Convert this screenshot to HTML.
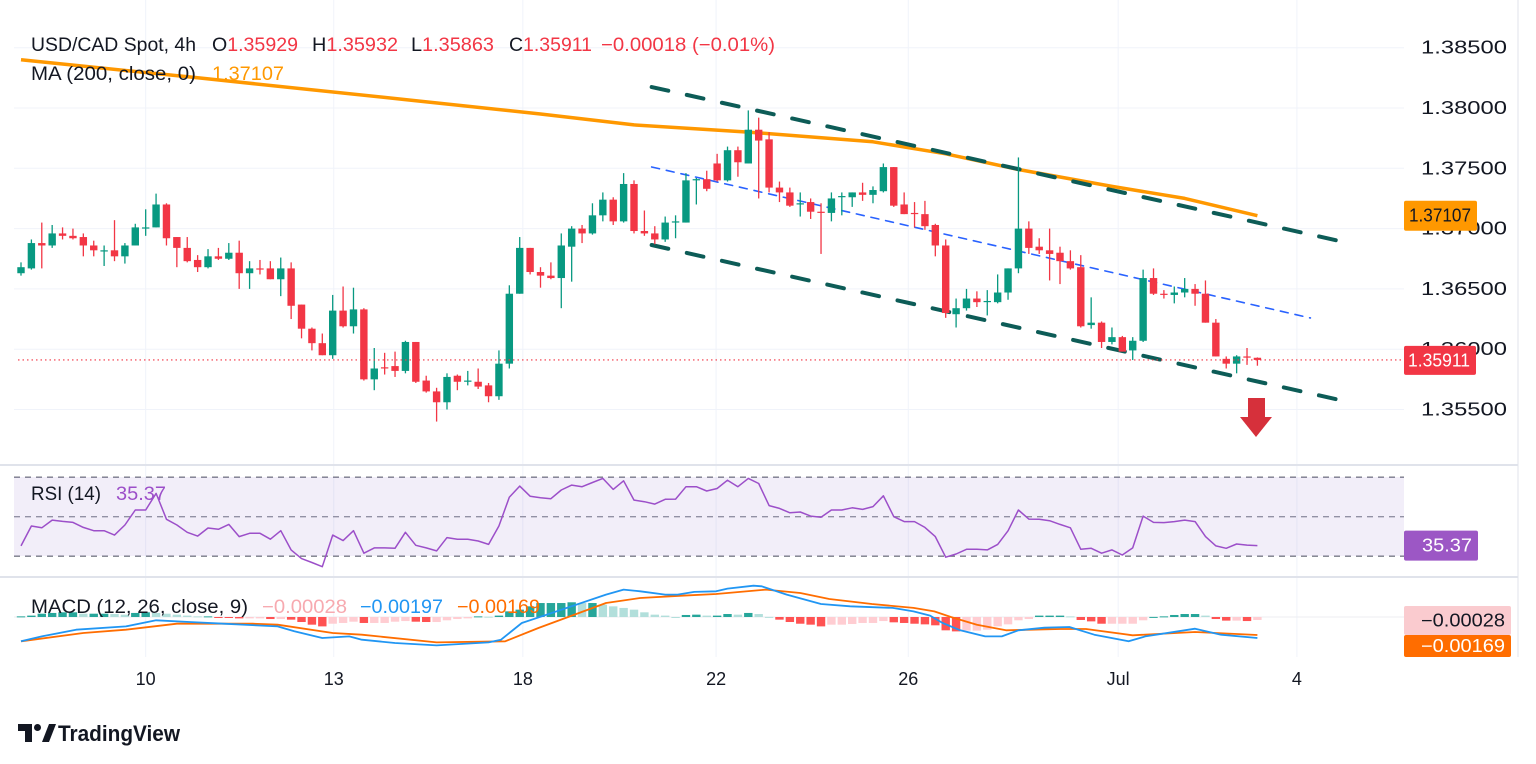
<!DOCTYPE html>
<html><head><meta charset="utf-8"><style>
html,body{margin:0;padding:0;background:#fff;}
svg{display:block;font-family:"Liberation Sans",sans-serif;}
</style></head><body>
<svg id="chart" width="1536" height="764" viewBox="0 0 1536 764" xmlns="http://www.w3.org/2000/svg">
<rect x="0" y="0" width="1536" height="764" fill="#fff"/>
<g id="grid"></g>
<rect x="14" y="477" width="1390" height="79" fill="#7e57c2" fill-opacity="0.1"/>
<g id="marks"></g>
<g id="labels"></g>
</svg>
<script>
// ---- data ----
const dateLabels = ["10","13","18","22","26","Jul","4"];
const dateIdx = [12, 30.1, 48.3, 66.9, 85.4, 105.6, 122.8];
const priceTicks = [1.385,1.38,1.375,1.37,1.365,1.36,1.355];
const opens = [1.3663,1.3667,1.3688,1.3686,1.3696,1.3694,1.3693,1.3686,1.3681,1.3682,1.3677,1.3686,1.3700,1.3701,1.3720,1.3693,1.3684,1.3674,1.3668,1.3677,1.3675,1.3680,1.3663,1.3667,1.3667,1.3658,1.3667,1.3637,1.3617,1.3605,1.3595,1.3632,1.3619,1.3633,1.3575,1.3585,1.3586,1.3582,1.3606,1.3574,1.3565,1.3556,1.3578,1.3573,1.3573,1.3570,1.3561,1.3588,1.3646,1.3684,1.3664,1.3661,1.3659,1.3685,1.3700,1.3696,1.3711,1.3724,1.3706,1.3737,1.3698,1.3696,1.3691,1.3705,1.3705,1.3740,1.3741,1.3754,1.3740,1.3765,1.3754,1.3782,1.3774,1.3734,1.3730,1.3720,1.3722,1.3714,1.3713,1.3726,1.3726,1.3730,1.3728,1.3731,1.3751,1.3720,1.3713,1.3712,1.3703,1.3686,1.3629,1.3634,1.3642,1.3639,1.3639,1.3647,1.3667,1.3700,1.3685,1.3682,1.3680,1.3673,1.3668,1.3620,1.3622,1.3606,1.3610,1.3599,1.3607,1.3659,1.3646,1.3645,1.3647,1.3650,1.3646,1.3622,1.3592,1.3588,1.3594,1.35929];
const highs = [1.3672,1.3691,1.3705,1.3703,1.3701,1.3700,1.3696,1.3690,1.3686,1.3707,1.3688,1.3704,1.3716,1.3729,1.3721,1.3693,1.3693,1.3678,1.3683,1.3684,1.3688,1.3690,1.3673,1.3674,1.3673,1.3676,1.3672,1.3637,1.3618,1.3613,1.3645,1.3652,1.3651,1.3634,1.3601,1.3597,1.3598,1.3607,1.3606,1.3578,1.3568,1.3580,1.3579,1.3582,1.3584,1.3572,1.3599,1.3653,1.3693,1.3684,1.3668,1.3672,1.3696,1.3702,1.3703,1.3721,1.3730,1.3726,1.3746,1.3740,1.3715,1.3702,1.3710,1.3711,1.3746,1.3742,1.3748,1.3762,1.3768,1.3768,1.3798,1.3792,1.3780,1.3739,1.3734,1.3730,1.3725,1.3721,1.3730,1.3730,1.3730,1.3738,1.3735,1.3754,1.3751,1.3730,1.3722,1.3723,1.3704,1.3691,1.3642,1.3650,1.3648,1.3649,1.3662,1.3667,1.3759,1.3706,1.3692,1.3700,1.3685,1.3682,1.3678,1.3643,1.3623,1.3618,1.3611,1.3610,1.3666,1.3667,1.3649,1.3652,1.3659,1.3654,1.3657,1.3625,1.3594,1.3595,1.3601,1.35932];
const lows = [1.3661,1.3666,1.3667,1.3684,1.3691,1.3691,1.3677,1.3677,1.3669,1.3673,1.3671,1.3686,1.3694,1.3701,1.3686,1.3668,1.3672,1.3664,1.3667,1.3674,1.3674,1.3650,1.3650,1.3662,1.3658,1.3644,1.3625,1.3609,1.3599,1.3595,1.3592,1.3618,1.3613,1.3574,1.3566,1.3579,1.3577,1.3580,1.3572,1.3564,1.3540,1.3550,1.3566,1.3570,1.3567,1.3556,1.3558,1.3584,1.3646,1.3662,1.3651,1.3658,1.3634,1.3656,1.3688,1.3695,1.3706,1.3703,1.3705,1.3696,1.3694,1.3687,1.3689,1.3692,1.3705,1.3720,1.3731,1.3739,1.3739,1.3743,1.3754,1.3725,1.3730,1.3722,1.3718,1.3710,1.3708,1.3679,1.3706,1.3711,1.3718,1.3723,1.3721,1.3730,1.3718,1.3712,1.3701,1.3699,1.3677,1.3626,1.3618,1.3632,1.3635,1.3628,1.3638,1.3641,1.3663,1.3679,1.3679,1.3657,1.3654,1.3666,1.3618,1.3617,1.3601,1.3604,1.3598,1.3591,1.3606,1.3645,1.3642,1.3638,1.3643,1.3636,1.3622,1.3594,1.3584,1.3580,1.3587,1.35863];
const closes = [1.3668,1.3688,1.3686,1.3696,1.3694,1.3692,1.3686,1.3682,1.3682,1.3677,1.3686,1.3701,1.3701,1.3720,1.3692,1.3684,1.3673,1.3668,1.3677,1.3675,1.3680,1.3663,1.3667,1.3666,1.3658,1.3667,1.3636,1.3617,1.3605,1.3595,1.3632,1.3619,1.3633,1.3575,1.3584,1.3584,1.3582,1.3606,1.3573,1.3565,1.3556,1.3577,1.3573,1.3574,1.3569,1.3561,1.3588,1.3646,1.3684,1.3664,1.3661,1.3659,1.3686,1.3700,1.3696,1.3711,1.3724,1.3706,1.3737,1.3698,1.3696,1.3691,1.3705,1.3706,1.3740,1.3741,1.3733,1.3740,1.3765,1.3755,1.3782,1.3773,1.3734,1.3730,1.3719,1.3721,1.3714,1.3713,1.3725,1.3727,1.3730,1.3728,1.3732,1.3751,1.3719,1.3712,1.3712,1.3702,1.3686,1.3630,1.3634,1.3642,1.3639,1.3640,1.3647,1.3667,1.3700,1.3684,1.3682,1.3679,1.3673,1.3667,1.3619,1.3622,1.3606,1.3610,1.3598,1.3607,1.3659,1.3646,1.3645,1.3647,1.3650,1.3646,1.3622,1.3594,1.3588,1.3594,1.3593,1.35911];
const maIdx = [0,17,37,50,59,70,82,89,96,105,112,119];
const maVals = [1.3840,1.3825,1.3807,1.3795,1.3786,1.3780,1.3772,1.3762,1.3749,1.3735,1.3725,1.37107];
const rsiVals = [35.2,45.3,44.4,48.3,47.6,47.1,44.6,42.9,42.9,40.7,45.8,53.4,53.4,61.8,48.7,45.8,42.1,40.2,44.3,43.6,46.1,39.9,41.6,41.6,38.6,42.9,33.2,28.8,26.8,24.7,40.7,37.9,42.9,31.5,34.2,34.2,34.0,42.1,35.5,34.2,32.7,39.4,38.6,38.6,37.7,36.0,45.3,59.8,65.5,60.4,59.6,59.1,63.5,66.0,65.2,67.3,69.4,63.8,68.2,58.4,57.6,56.4,
58.8,58.9,65.2,65.2,63.0,64.3,68.5,65.2,69.4,66.8,55.6,54.2,52.0,52.4,50.3,49.7,53.4,53.4,54.5,53.7,55.1,60.6,50.0,47.5,47.5,44.6,39.9,29.5,31.1,33.5,33.5,33.2,36.0,42.9,53.4,48.8,48.7,48.0,46.1,44.4,33.5,34.0,31.5,33.2,30.6,34.2,50.3,47.1,47.0,47.5,48.3,47.5,39.9,35.2,34.0,36.2,35.6,35.37];
const histVals = [0.00006,0.00013,0.00031,0.00038,0.00044,0.00044,0.00031,0.00031,0.00031,0.00028,0.00022,0.00038,0.00044,0.00038,0.00031,0.00022,0.00013,0.00006,0.00006,-0.00006,-0.00009,-0.00013,-0.00013,-0.00013,-0.00019,-0.00019,-0.00025,-0.00047,-0.00072,-0.00088,-0.00063,-0.00056,-0.00044,-0.00056,-0.00056,-0.00056,-0.00044,-0.00038,-0.00044,-0.00047,-0.00047,-0.00031,-0.00019,-0.00013,0.00006,0.00003,0.00013,0.00053,0.00069,0.001,0.00131,0.00131,0.00131,0.00138,0.00131,0.00131,0.00116,0.001,0.00085,0.00069,0.00044,0.00022,
0.00013,0,0.00019,0.00022,0.00013,0.00013,0.00028,0.00022,0.00038,0.00028,0.00001,-0.00025,-0.00047,-0.00063,-0.00072,-0.00088,-0.00072,-0.00072,-0.00066,-0.00056,-0.00056,-0.00038,-0.0005,-0.00056,-0.00063,-0.00069,-0.00078,-0.00125,-0.00135,-0.00128,-0.00128,-0.00119,-0.00088,-0.00069,-0.00031,-0.00019,0.00013,0.00013,0.00013,0.00006,-0.00028,-0.00041,-0.00063,-0.00063,-0.00063,-0.00063,-0.00031,0.00001,0.00006,0.00019,0.00028,0.00028,0.00013,-0.00019,-0.00034,-0.00034,-0.00038,-0.00028];
const macdIdx = [0,2,5.3,10.1,13,16.2,19.5,24.7,26.3,29,31.6,32.8,36,40,45,46.2,48.2,50.6,56.3,58,59.6,62,63.2,64.8,66.9,68,70.5,71.3,73.7,77,79.8,82.3,83.9,85.9,87.5,88.7,90.4,92.8,94.4,96,98.5,100.9,103.3,106.6,108.2,113,115.5,119];
const macdVals = [-0.00228,-0.00182,-0.00119,-0.00088,-0.00031,-0.00047,-0.00063,-0.00088,-0.00134,-0.00197,-0.00182,-0.00213,-0.00244,-0.00266,-0.00238,-0.00213,-0.00056,0.00022,0.0021,0.00257,0.00241,0.0021,0.0021,0.00235,0.00241,0.00266,0.00294,0.00288,0.0021,0.00122,0.001,0.00091,0.00085,0.00053,0.00013,-0.00056,-0.00125,-0.00182,-0.00182,-0.00125,-0.001,-0.00094,-0.00166,-0.00228,-0.00182,-0.0011,-0.00166,-0.00197];
const sigIdx = [0,6,10.1,15,22.3,24.7,30,32.8,40,46.6,49.8,56.3,59.6,63.6,66.9,71.7,75,77.8,81.9,85.9,87.9,89.5,92,94.8,100,102.5,107,113,119];
const sigVals = [-0.00228,-0.0015,-0.00119,-0.00063,-0.00063,-0.00072,-0.0015,-0.00166,-0.00238,-0.00228,-0.00103,0.00131,0.00178,0.002,0.00216,0.00257,0.00225,0.00169,0.00122,0.00085,0.00053,0,-0.00072,-0.00125,-0.00113,-0.00113,-0.00172,-0.00141,-0.00169];

// ---- scales ----
const NS = "http://www.w3.org/2000/svg";
const X = i => 21 + i * 10.39;
const Y = p => 108 + (1.38 - p) * 12060;
const RY = v => 516.7 - (v - 50) * 1.975;
const MY = v => 617 - v * 10660;
function mk(tag, parent, attrs) {
  const e = document.createElementNS(NS, tag);
  for (const k in attrs) e.setAttribute(k, attrs[k]);
  parent.appendChild(e);
  return e;
}
const grid = document.getElementById('grid');
const marks = document.getElementById('marks');
const labels = document.getElementById('labels');

priceTicks.forEach(p => {
  const l = mk('line', grid, {x1:14, x2:1404, y1:Y(p), y2:Y(p), stroke:'#f0f3fa', 'stroke-width':1});
  
  
});
dateIdx.forEach(i => {
  const l = mk('line', grid, {x1:X(i), x2:X(i), y1:0, y2:657, stroke:'#f0f3fa', 'stroke-width':1});
  
  
});
[465, 577].forEach(y => {
  const l = mk('line', grid, {x1:0, x2:1518, y1:y, y2:y, stroke:'#e0e3eb', 'stroke-width':2});
  
  
});
{
  const l = mk('line', grid, {x1:1518, x2:1518, y1:0, y2:657, stroke:'#e0e3eb', 'stroke-width':1});
  
  
}
[70, 50, 30].forEach(v => {
  const l = mk('line', grid, {x1:14, x2:1404, y1:RY(v), y2:RY(v), stroke: v===50 ? '#9598a1' : '#787b86', 'stroke-width':1.3, 'stroke-dasharray':'6 5'});
  
  
});
{
  const l = mk('line', grid, {x1:14, x2:1404, y1:MY(0), y2:MY(0), stroke:'#eceef2', 'stroke-width':1});
  
  
}

{
  const pts = maIdx.map((i, k) => X(i).toFixed(1) + ',' + Y(maVals[k]).toFixed(1)).join(' ');
  const l = mk('polyline', marks, {points: pts, fill:'none', stroke:'#ff9800', 'stroke-width':3.5, 'stroke-linejoin':'round'});
  
  
}
const drawLine = (i1, p1, i2, p2, st, w, dash, name) => {
  const l = mk('line', marks, {x1:X(i1), y1:Y(p1), x2:X(i2), y2:Y(p2), stroke:st, 'stroke-width':w, 'stroke-dasharray':dash, 'stroke-linecap':'round'});
  
  
};
drawLine(60.7, 1.38174, 126.9, 1.36897, '#0d5c57', 4, '17 19', 'channel-upper-line');
drawLine(60.7, 1.36864, 126.9, 1.35579, '#0d5c57', 4, '17 19', 'channel-lower-line');
drawLine(60.7, 1.37511, 124.1, 1.36259, '#2962ff', 1.6, '8 7', 'channel-mid-line');

for (let i = 0; i < opens.length; i++) {
  const up = closes[i] >= opens[i];
  const col = up ? '#089981' : '#f23645';
  const x = X(i);
  const w = mk('line', marks, {x1:x, x2:x, y1:Y(highs[i]), y2:Y(lows[i]), stroke:col, 'stroke-width':1.3});
  
  
  const top = Y(Math.max(opens[i], closes[i]));
  const h = Math.max(1, Math.abs(Y(opens[i]) - Y(closes[i])));
  const b = mk('rect', marks, {x:x - 3.7, y:top, width:7.4, height:h, fill:col});
  
  
}
{
  const lp = closes[closes.length - 1];
  const l = mk('line', marks, {x1:18, x2:1404, y1:Y(lp), y2:Y(lp), stroke:'#f23645', 'stroke-width':1.2, 'stroke-dasharray':'1.5 3'});
  
  
}
{
  const g = mk('g', marks, {});
  
  
  mk('rect', g, {x:1248, y:398, width:17, height:20, fill:'#d6303b'});
  mk('polygon', g, {points:'1240,417 1272,417 1256,437', fill:'#d6303b'});
}

{
  const pts = rsiVals.map((v, i) => X(i).toFixed(1) + ',' + RY(v).toFixed(1)).join(' ');
  const l = mk('polyline', marks, {points: pts, fill:'none', stroke:'#9c4fc9', 'stroke-width':1.5, 'stroke-linejoin':'round'});
  
  
}
for (let i = 0; i < histVals.length; i++) {
  const v = histVals[i], pv = i ? histVals[i - 1] : 0;
  let col;
  if (v >= 0) col = v >= pv ? '#26a69a' : '#b2dfdb';
  else col = v < pv ? '#ff5252' : '#ffcdd2';
  const y0 = MY(0), y1 = MY(v);
  const r = mk('rect', marks, {x:X(i) - 4.2, y:Math.min(y0, y1), width:8.4, height:Math.max(1, Math.abs(y1 - y0)), fill:col});
  
  
}
{
  const pts = sigIdx.map((i, k) => X(i).toFixed(1) + ',' + MY(sigVals[k]).toFixed(1)).join(' ');
  const l = mk('polyline', marks, {points: pts, fill:'none', stroke:'#ff6d00', 'stroke-width':1.8, 'stroke-linejoin':'round'});
  
  
  const pts2 = macdIdx.map((i, k) => X(i).toFixed(1) + ',' + MY(macdVals[k]).toFixed(1)).join(' ');
  const l2 = mk('polyline', marks, {points: pts2, fill:'none', stroke:'#2196f3', 'stroke-width':1.8, 'stroke-linejoin':'round'});
  
  
}

priceTicks.forEach(p => {
  const t = mk('text', labels, {x:1421, y:Y(p) + 6, 'font-size':18, fill:'#131722', textLength:86, lengthAdjust:'spacingAndGlyphs'});
  t.textContent = p.toFixed(5);
  
  
});
dateLabels.forEach((s, k) => {
  const t = mk('text', labels, {x:X(dateIdx[k]), y:685, 'font-size':18, fill:'#131722', 'text-anchor':'middle'});
  t.textContent = s;
  
  
});
const badge = (y, h, w, fill, txtCol, txt, tl, name) => {
  const g = mk('g', labels, {});
  
  
  mk('rect', g, {x:1404, y:y, width:w, height:h, fill:fill, rx:2});
  const t = mk('text', g, {x:1404 + w - 6 - tl, y:y + h / 2 + 6, 'font-size':18, fill:txtCol, textLength:tl, lengthAdjust:'spacingAndGlyphs'});
  t.textContent = txt;
};
badge(Y(maVals[maVals.length - 1]) - 15, 30, 73, '#ff9800', '#131722', maVals[maVals.length - 1].toFixed(5), 62, 'ma-price-badge');
badge(Y(closes[closes.length - 1]) - 14, 29, 72, '#f23645', '#ffffff', closes[closes.length - 1].toFixed(5), 62, 'last-price-badge');
badge(RY(rsiVals[rsiVals.length - 1]) - 15, 30, 74, '#9c57c5', '#ffffff', rsiVals[rsiVals.length - 1].toFixed(2), 50, 'rsi-value-badge');
badge(606, 29, 107, '#facbcf', '#131722', '−0.00028', 84, 'macd-hist-badge');
badge(635, 22, 107, '#ff6d00', '#ffffff', '−0.00169', 84, 'macd-signal-badge');
</script>
<svg style="position:absolute;left:0;top:0" width="1536" height="764">
<g font-family="Liberation Sans, sans-serif" font-size="19">
<text x="31" y="51" fill="#131722" textLength="165" lengthAdjust="spacingAndGlyphs">USD/CAD Spot, 4h</text>
<text x="212" y="51" fill="#131722" textLength="86" lengthAdjust="spacingAndGlyphs">O<tspan fill="#f23645">1.35929</tspan></text>
<text x="312" y="51" fill="#131722" textLength="86" lengthAdjust="spacingAndGlyphs">H<tspan fill="#f23645">1.35932</tspan></text>
<text x="411" y="51" fill="#131722" textLength="83" lengthAdjust="spacingAndGlyphs">L<tspan fill="#f23645">1.35863</tspan></text>
<text x="509" y="51" fill="#131722" textLength="83" lengthAdjust="spacingAndGlyphs">C<tspan fill="#f23645">1.35911</tspan></text>
<text x="601" y="51" fill="#f23645" textLength="174" lengthAdjust="spacingAndGlyphs">−0.00018 (−0.01%)</text>
<text x="31" y="80" fill="#131722" textLength="165" lengthAdjust="spacingAndGlyphs">MA (200, close, 0)</text>
<text x="212" y="80" fill="#ff9800" textLength="72" lengthAdjust="spacingAndGlyphs">1.37107</text>
<text x="31" y="500" fill="#131722" textLength="70" lengthAdjust="spacingAndGlyphs">RSI (14)</text>
<text x="116" y="500" fill="#9c4fc9" textLength="50" lengthAdjust="spacingAndGlyphs">35.37</text>
<text x="31" y="613" fill="#131722" textLength="217" lengthAdjust="spacingAndGlyphs">MACD (12, 26, close, 9)</text>
<text x="262" y="613" fill="#f7aab0" textLength="85" lengthAdjust="spacingAndGlyphs">−0.00028</text>
<text x="360" y="613" fill="#2196f3" textLength="83" lengthAdjust="spacingAndGlyphs">−0.00197</text>
<text x="457" y="613" fill="#ff6d00" textLength="83" lengthAdjust="spacingAndGlyphs">−0.00169</text>
</g>
<g>
<path d="M18 724 h14 v18 h-7 v-11 h-7 z" fill="#131722"/>
<circle cx="37.5" cy="727.5" r="3.5" fill="#131722"/>
<path d="M42 742 l7 -18 h7 l-7 18 z" fill="#131722"/>
<text x="58" y="741" font-family="Liberation Sans, sans-serif" font-size="22" font-weight="bold" fill="#131722" textLength="122" lengthAdjust="spacingAndGlyphs">TradingView</text>
</g>
</svg>
</body></html>
